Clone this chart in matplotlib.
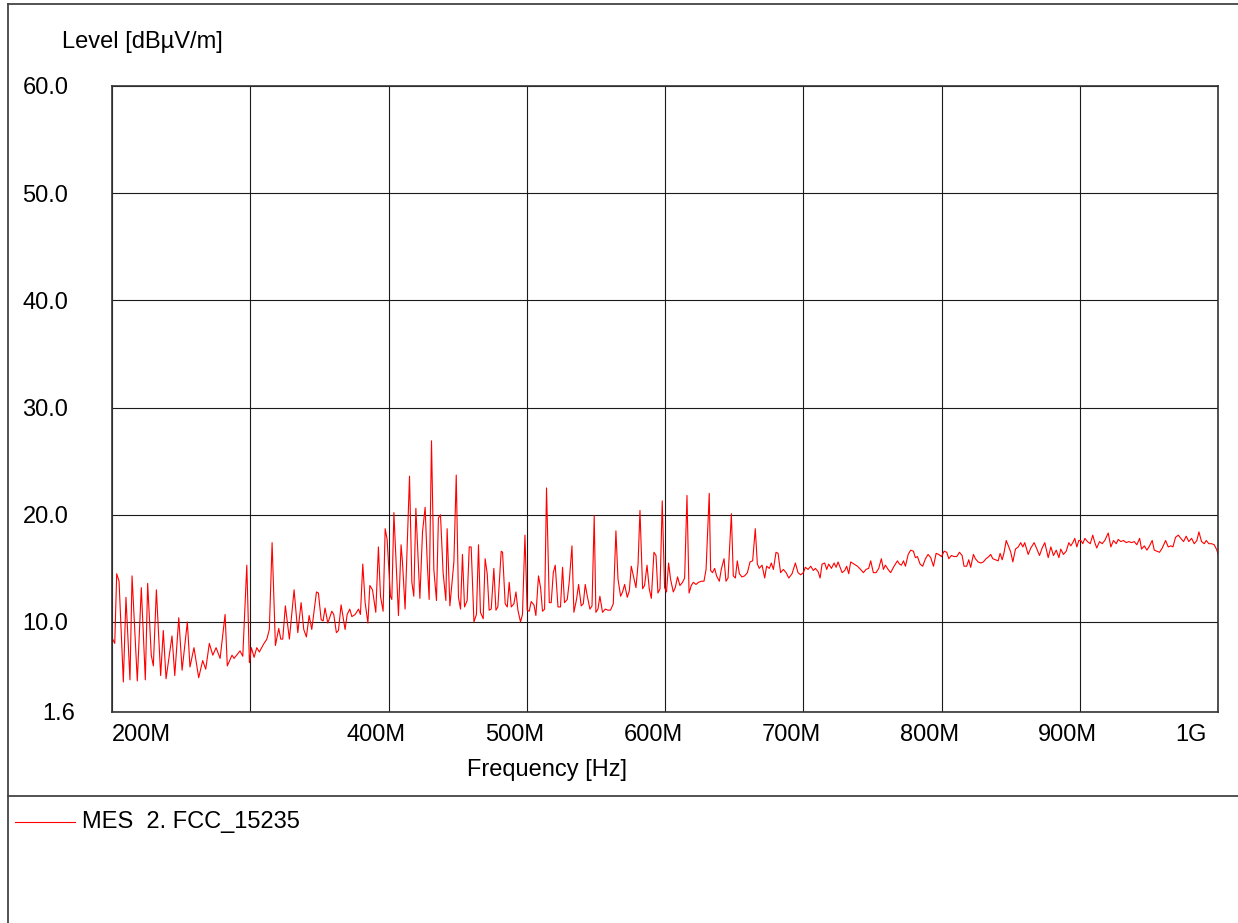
"""
EMI scan plot: radiated emission level vs frequency (FCC 15.235 sweep).
"""
import matplotlib
matplotlib.use("Agg")
import matplotlib.pyplot as plt
import matplotlib.transforms as mtransforms
from matplotlib.lines import Line2D

plt.rcParams["font.family"] = ["Liberation Sans", "DejaVu Sans"]

# trace, MHz / dBuV/m
freq_mhz = [
    200.5, 202.0, 203.4, 205.1, 208.2, 210.1, 213.0, 214.5, 218.3, 221.2,
    224.1, 225.8, 228.4, 229.9, 232.1, 235.2, 237.1, 239.1, 243.4, 245.4,
    248.3, 250.7, 254.5, 256.4, 259.3, 262.7, 265.6, 267.8, 270.4, 272.9,
    275.3, 278.2, 281.8, 283.4, 286.8, 288.3, 292.6, 294.6, 297.5, 299.4,
    300.8, 302.8, 304.7, 306.6, 309.5, 312.0, 313.8, 315.8, 318.2, 320.6,
    322.1, 323.5, 325.4, 328.3, 331.7,
    334.4, 336.8, 338.7, 340.6, 342.6, 344.5, 347.9, 349.3, 351.3, 352.7,
    354.1, 356.1, 359.0, 360.4, 362.3, 363.8, 365.7, 368.6, 370.1, 372.0,
    373.5, 375.9, 378.3, 379.7, 381.4, 383.1, 385.1, 386.5, 388.4, 390.8,
    392.7, 394.2, 396.1, 397.6, 399.0, 401.4, 402.4, 403.9, 407.2, 409.1,
    410.1, 412.0, 415.2, 416.9, 418.3, 419.8, 422.7, 424.6, 426.5, 428.0,
    429.4, 431.1, 432.8, 434.7, 436.1, 437.6, 439.5, 441.5, 442.4, 444.4,
    447.3, 449.0, 450.6, 452.1, 453.5, 455.0, 456.9, 458.4, 459.8, 461.8,
    463.6, 465.1,
    466.5, 468.5, 469.9, 471.4, 472.8, 474.3, 476.2, 477.7, 479.1, 481.5,
    482.5, 484.4, 485.9, 487.3, 488.8, 490.7, 492.2, 493.6, 495.5, 496.9,
    498.7, 500.3, 501.8, 503.2, 505.2, 506.6, 508.5, 510.0, 511.4, 512.9,
    514.3, 516.3, 517.7, 519.2, 520.6, 522.6, 524.4, 525.9, 527.3, 529.3,
    530.7, 532.7, 534.1, 536.0, 537.5, 539.4, 540.9, 542.3, 543.8, 545.7,
    547.2, 548.8, 550.0, 551.5, 552.9, 554.8, 556.8, 558.7, 560.6, 562.6,
    564.5, 566.0, 567.9, 569.3, 570.8, 572.7, 574.2, 575.6, 577.1, 579.0,
    580.5, 581.9, 583.8, 585.2, 587.0, 588.6, 590.1, 592.0, 593.5,
    594.9, 596.4, 598.0, 599.7, 601.1, 602.6, 604.0, 606.0, 607.4, 609.1,
    610.8, 612.7, 614.2, 615.9, 617.4, 619.0, 620.5, 622.4, 624.3, 626.3,
    628.2, 629.7, 632.0, 633.0, 634.4, 635.9, 637.3, 639.3, 640.7, 642.7,
    644.1, 645.6, 648.0, 649.4, 650.9, 652.3, 653.8, 655.7, 657.6, 659.6,
    661.5, 663.4, 665.3, 666.8, 668.2, 670.2, 672.1, 673.5, 675.5, 676.9,
    678.4, 680.3, 681.8, 683.6, 685.6, 687.6, 689.5, 691.9, 694.3, 696.2,
    698.1, 700.1, 701.5, 703.5, 705.4, 707.3, 708.8, 710.7, 712.2, 713.6,
    715.5, 717.0, 718.4, 720.4, 722.3, 723.8, 725.2,
    728.1, 730.0, 731.4, 732.9, 734.3, 736.8, 739.2, 741.5, 743.5, 745.4,
    747.3, 748.8, 750.7, 752.7, 754.6, 756.5, 758.0, 759.4, 761.4, 763.2,
    765.7, 768.1, 769.6, 771.0, 772.5, 773.9, 775.9, 777.7, 779.7, 781.1,
    782.6, 784.5, 786.4, 788.4, 790.3, 792.2, 794.2, 796.1, 798.0, 800.0,
    801.9, 803.8, 805.3, 807.2, 809.1, 811.0, 813.0, 814.9, 816.3, 818.2,
    819.7, 821.1, 823.1, 824.5, 826.5, 828.4, 830.3, 832.2, 834.2, 835.6,
    837.1, 839.0, 841.0, 842.4, 843.9, 845.3, 846.8, 848.7, 850.1, 851.6,
    853.5, 855.5, 857.3, 858.8, 860.2,
    862.7, 864.6, 867.0, 869.0, 870.9, 872.8, 874.7, 877.2, 879.1, 881.0,
    883.0, 884.9, 886.3, 888.2, 890.2, 892.1, 893.5, 895.0, 896.4, 897.9,
    899.3, 900.8, 902.2, 903.7, 905.6, 907.6, 909.4, 910.9, 912.3, 914.3,
    916.2, 918.1, 920.6, 922.5, 924.4, 926.4, 927.8, 929.7, 931.7, 933.6,
    935.5, 937.5, 939.4, 941.3, 943.3, 944.7, 946.7, 948.6, 950.5, 952.4,
    953.9, 955.8, 957.7, 959.7, 962.1, 964.0, 965.9, 967.4, 969.3, 971.3,
    973.1, 975.1, 977.0, 978.9, 980.9, 982.8, 984.7, 986.2, 988.1, 990.1,
    991.5, 993.4, 995.4, 997.3, 999.2, 1000.0,
]
level_dbuv = [
    8.4, 8.0, 14.5, 13.8, 4.4, 12.3, 4.6, 14.3, 4.5, 13.2,
    4.6, 13.6, 6.9, 5.9, 13.0, 5.0, 9.2, 4.7, 8.7, 5.0,
    10.4, 5.5, 10.0, 5.8, 7.6, 4.8, 6.4, 5.6, 8.0, 6.9,
    7.6, 6.6, 10.7, 5.9, 6.9, 6.6, 7.3, 6.8, 15.3, 6.2,
    7.6, 6.7, 7.6, 7.2, 7.9, 8.4, 9.3, 17.4, 7.8, 9.4,
    8.4, 8.4, 11.5, 8.4, 13.0,
    9.0, 11.8, 9.3, 8.6, 10.6, 9.3, 12.8, 12.7, 10.2, 10.1,
    11.3, 9.9, 11.0, 10.7, 9.0, 9.2, 11.6, 9.3, 10.7, 11.2,
    10.5, 10.7, 11.2, 10.7, 15.4, 11.8, 9.9, 13.4, 13.0, 10.9,
    17.0, 12.4, 11.0, 18.7, 17.7, 12.4, 12.1, 20.2, 10.6, 17.2,
    15.6, 11.2, 23.6, 13.7, 12.4, 20.6, 12.2, 18.4, 20.7, 15.6,
    12.1, 26.9, 14.9, 12.0, 19.7, 20.0, 14.6, 12.0, 18.7, 11.5,
    15.6, 23.7, 12.3, 11.2, 16.3, 11.4, 12.0, 17.0, 17.0, 10.0,
    10.7, 17.2,
    10.9, 10.3, 15.9, 14.5, 11.1, 11.2, 15.0, 11.1, 11.4, 16.6,
    16.5, 11.7, 11.4, 13.7, 11.4, 11.7, 12.8, 11.1, 10.0, 10.7,
    18.1, 11.1, 11.0, 11.9, 11.6, 10.6, 14.3, 13.2, 11.0, 11.2,
    22.5, 11.8, 11.8, 14.6, 15.3, 11.4, 11.4, 15.1, 11.8, 12.1,
    13.7, 17.1, 10.9, 12.1, 13.5, 11.5, 11.7, 13.5, 12.4, 11.2,
    11.5, 19.9, 10.9, 11.2, 12.4, 10.9, 11.2, 11.1, 11.1, 11.7,
    18.5, 14.0, 12.4, 12.8, 13.5, 12.3, 12.9, 15.2, 14.3, 13.2,
    15.4, 20.4, 13.1, 13.4, 15.3, 13.1, 12.2, 16.5, 16.2,
    12.7, 13.1, 21.3, 13.2, 12.8, 15.5, 14.0, 12.8, 13.2, 14.2,
    13.4, 13.7, 14.1, 21.8, 12.7, 13.4, 13.7, 13.5, 13.7, 13.8,
    13.8, 14.9, 22.0, 14.8, 14.6, 15.0, 14.3, 13.8, 14.9, 15.9,
    13.8, 14.1, 20.1, 14.3, 14.1, 15.7, 14.5, 14.2, 14.3, 14.6,
    15.6, 15.7, 18.7, 15.4, 15.0, 15.3, 14.1, 15.2, 15.0, 15.5,
    14.9, 16.5, 16.4, 14.6, 14.9, 14.6, 14.1, 14.5, 15.5, 14.6,
    14.4, 14.6, 15.1, 14.9, 15.2, 14.8, 15.0, 14.7, 14.1, 15.4,
    15.5, 14.9, 15.4, 15.0, 15.5, 15.1, 15.6,
    14.6, 14.8, 15.2, 14.5, 15.6, 15.4, 15.2, 14.9, 14.6, 14.9,
    15.0, 15.7, 14.6, 14.6, 15.0, 15.9, 14.9, 15.3, 14.9, 14.6,
    15.2, 15.7, 15.4, 15.3, 15.7, 15.2, 16.3, 16.7, 16.6, 16.0,
    16.1, 15.4, 15.2, 15.9, 16.3, 16.0, 15.2, 16.4, 16.3, 16.1,
    16.6, 16.5, 15.9, 16.2, 16.1, 16.1, 16.5, 16.2, 15.2, 15.2,
    15.8, 15.1, 16.3, 15.9, 15.6, 15.5, 15.6, 15.9, 16.1, 16.3,
    15.9, 15.8, 15.7, 16.4, 15.8, 16.5, 17.6, 17.0, 16.5, 15.6,
    16.8, 17.0, 17.4, 17.0, 17.4,
    16.3, 16.9, 17.4, 16.8, 16.2, 16.9, 17.4, 16.0, 17.0, 16.2,
    16.7, 16.0, 16.8, 16.3, 16.6, 17.4, 17.1, 17.4, 17.8, 17.0,
    17.6, 17.6, 17.3, 17.8, 17.5, 17.3, 18.1, 17.4, 16.9, 17.5,
    17.3, 17.6, 18.3, 17.0, 17.6, 17.3, 17.7, 17.5, 17.6, 17.4,
    17.5, 17.4, 17.5, 17.2, 17.8, 16.8, 17.1, 16.7, 17.1, 17.6,
    16.7, 16.6, 16.5, 16.9, 17.6, 17.0, 17.1, 17.0, 17.9, 18.1,
    17.8, 17.5, 18.0, 17.5, 17.8, 17.3, 17.6, 18.4, 17.5, 17.3,
    17.6, 17.3, 17.3, 17.2, 16.7, 16.3,
]

x_ticks = [200, 300, 400, 500, 600, 700, 800, 900, 1000]
x_labels = ["200M", "", "400M", "500M", "600M", "700M", "800M", "900M", "1G"]
y_ticks = [1.6, 10, 20, 30, 40, 50, 60]
y_labels = ["1.6", "10.0", "20.0", "30.0", "40.0", "50.0", "60.0"]
trace_name = "MES  2. FCC_15235"

W, H = 1238, 923
fig = plt.figure(figsize=(W / 100, H / 100), dpi=100)
ax = fig.add_axes([112 / W, 1 - 712 / H, 1106 / W, 626 / H])

ax.plot(freq_mhz, level_dbuv, color="#ff0000", lw=0.8)
ax.set_xlim(200, 1000)
ax.set_ylim(1.6, 60)
ax.set_xticks(x_ticks, x_labels)
ax.set_yticks(y_ticks, y_labels)
ax.tick_params(length=0, labelsize=17)
ax.tick_params(axis="x", pad=8.6)
ax.tick_params(axis="y", pad=31.5)
ax.grid(True, color="#1a1a1a", lw=0.8)
for sp in ax.spines.values():
    sp.set_color("#333333")
    sp.set_linewidth(1.2)

# the instrument software puts its labels a bit left of the grid lines
xlabs = ax.get_xticklabels()
for i, lab in enumerate(xlabs):
    dx = -12
    if i == 0:
        lab.set_ha("left")
        dx = 0
    elif i == len(xlabs) - 1:
        lab.set_ha("right")
        dx = -11
    lab.set_transform(lab.get_transform() +
                      mtransforms.ScaledTranslation(dx / 100, 0, fig.dpi_scale_trans))
ylab0 = ax.get_yticklabels()[0]
ylab0.set_transform(ylab0.get_transform() +
                    mtransforms.ScaledTranslation(7 / 100, 0, fig.dpi_scale_trans))

fig.text(62 / W, 1 - 42 / H, "Level [dBµV/m]", fontsize=17, ha="left", va="center")
fig.text(547 / W, 1 - 770 / H, "Frequency [Hz]", fontsize=17, ha="center", va="center")

# page frame and legend area
frame = dict(color="#444444", lw=1.3, transform=fig.transFigure)
fig.add_artist(Line2D([8 / W, 1], [1 - 4 / H, 1 - 4 / H], **frame))
fig.add_artist(Line2D([8 / W, 8 / W], [0, 1 - 4 / H], **frame))
fig.add_artist(Line2D([8 / W, 1], [1 - 796 / H, 1 - 796 / H], **frame))
fig.add_artist(Line2D([15 / W, 75 / W], [1 - 822 / H, 1 - 822 / H],
                      color="#ff0000", lw=0.8, transform=fig.transFigure))
fig.text(82 / W, 1 - 822 / H, trace_name, fontsize=17, ha="left", va="center")

fig.savefig("out.png", dpi=100)
plt.close(fig)
